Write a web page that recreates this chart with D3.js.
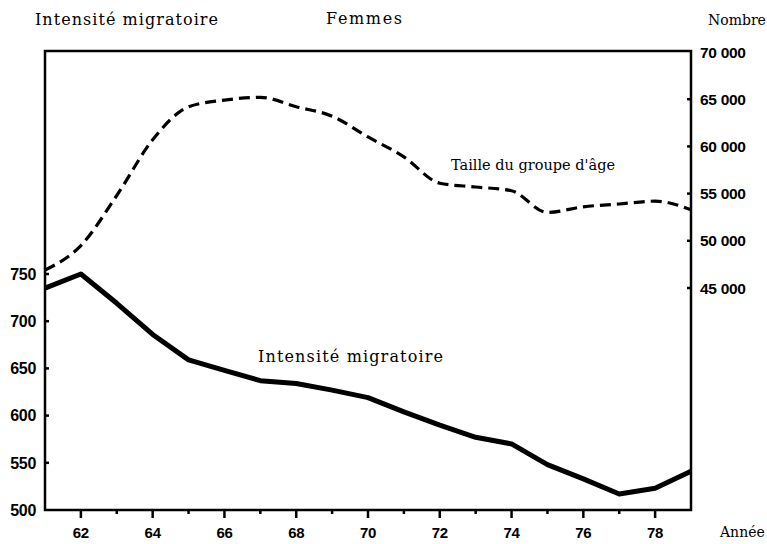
<!DOCTYPE html>
<html>
<head>
<meta charset="utf-8">
<script src="https://cdn.jsdelivr.net/npm/d3@7"></script>
<style>
  body { margin: 0; background: #fff; }
  .serif { font-family: "DejaVu Serif", serif; fill: #000; }
  .num { font-family: "Liberation Sans", Arial, sans-serif; font-weight: bold; fill: #000; }
</style>
</head>
<body>
<div id="chart"></div>
<script>
// Years on the x axis
const years = [61, 62, 63, 64, 65, 66, 67, 68, 69, 70, 71, 72, 73, 74, 75, 76, 77, 78, 79];
// Intensité migratoire (left axis)
const intensite = [735, 750, 719, 686, 659, 648, 637, 634, 627, 619, 604, 590, 577, 570, 548, 533, 517, 523, 541];
// Taille du groupe d'âge (right axis)
const taille = [46900, 49500, 54800, 60700, 64200, 64900, 65200, 64200, 63200, 61000, 58900, 56100, 55700, 55300, 53000, 53600, 53900, 54200, 53300];

const leftTicks = [500, 550, 600, 650, 700, 750];
const rightTicks = [45000, 50000, 55000, 60000, 65000, 70000];
const xTicks = [62, 63, 64, 65, 66, 67, 68, 69, 70, 71, 72, 73, 74, 75, 76, 77, 78];

const width = 767, height = 544;
const frame = { left: 45, right: 691, top: 51, bottom: 510 };

const svg = d3.select("#chart").append("svg")
    .attr("width", width)
    .attr("height", height);

const x = d3.scaleLinear().domain([61, 79]).range([frame.left, frame.right]);
const yL = d3.scaleLinear().domain([500, 750]).range([frame.bottom, 274]);
const yR = d3.scaleLinear().domain([45000, 70000]).range([288, 52]);

// frame
svg.append("rect")
    .attr("x", frame.left).attr("y", frame.top)
    .attr("width", frame.right - frame.left).attr("height", frame.bottom - frame.top)
    .attr("fill", "none").attr("stroke", "#000").attr("stroke-width", 2.5);

// left axis ticks (inside)
const gL = svg.append("g").attr("transform", `translate(${frame.left},0)`);
gL.selectAll("line").data(leftTicks.slice(1)).enter().append("line")
    .attr("x1", 0).attr("x2", 4)
    .attr("y1", d => yL(d)).attr("y2", d => yL(d))
    .attr("stroke", "#000").attr("stroke-width", 2.5);
gL.selectAll("text").data(leftTicks).enter().append("text")
    .attr("class", "num")
    .attr("x", -9).attr("y", d => yL(d)).attr("dy", "0.36em")
    .attr("text-anchor", "end")
    .attr("font-size", 16)
    .attr("letter-spacing", -0.3)
    .text(d => d);

// right axis ticks (inside)
const gR = svg.append("g").attr("transform", `translate(${frame.right},0)`);
gR.selectAll("line").data(rightTicks.slice(0, -1)).enter().append("line")
    .attr("x1", -4).attr("x2", 0)
    .attr("y1", d => yR(d)).attr("y2", d => yR(d))
    .attr("stroke", "#000").attr("stroke-width", 2.5);
gR.selectAll("text").data(rightTicks).enter().append("text")
    .attr("class", "num")
    .attr("x", 9).attr("y", d => yR(d)).attr("dy", "0.36em")
    .attr("font-size", 15.5)
    .attr("letter-spacing", -0.3)
    .text(d => d3.format(",")(d).replace(",", " "));

// bottom axis ticks (outside)
const gB = svg.append("g").attr("transform", `translate(0,${frame.bottom})`);
gB.selectAll("line").data(xTicks).enter().append("line")
    .attr("x1", d => x(d)).attr("x2", d => x(d))
    .attr("y1", 0).attr("y2", d => d % 2 === 0 ? 8 : 4)
    .attr("stroke", "#000").attr("stroke-width", 2.5);
gB.selectAll("text").data(xTicks.filter(d => d % 2 === 0)).enter().append("text")
    .attr("class", "num")
    .attr("x", d => x(d)).attr("y", 28)
    .attr("text-anchor", "middle")
    .attr("font-size", 15)
    .attr("letter-spacing", -0.3)
    .text(d => d);

// dashed line: taille du groupe d'âge
svg.append("path")
    .datum(years.map((d, i) => [d, taille[i]]))
    .attr("fill", "none")
    .attr("stroke", "#000")
    .attr("stroke-width", 3.2)
    .attr("stroke-dasharray", "11,6")
    .attr("d", d3.line().x(d => x(d[0])).y(d => yR(d[1])).curve(d3.curveMonotoneX));

// solid line: intensité migratoire
svg.append("path")
    .datum(years.map((d, i) => [d, intensite[i]]))
    .attr("fill", "none")
    .attr("stroke", "#000")
    .attr("stroke-width", 5)
    .attr("stroke-linejoin", "round")
    .attr("d", d3.line().x(d => x(d[0])).y(d => yL(d[1])));

// text labels
function label(txt, tx, ty, size, len) {
    const t = svg.append("text").attr("class", "serif")
        .attr("x", tx).attr("y", ty)
        .attr("font-size", size)
        .text(txt);
    if (len) t.attr("textLength", len);
}
label("Intensité migratoire", 35, 25, 16, 183);
label("Femmes", 326, 24, 16, 76);
label("Nombre", 708, 25, 14);
label("Année", 720, 537, 14);
label("Taille du groupe d'âge", 451, 170, 14.5);
label("Intensité migratoire", 258, 362, 16, 185);
</script>
</body>
</html>
